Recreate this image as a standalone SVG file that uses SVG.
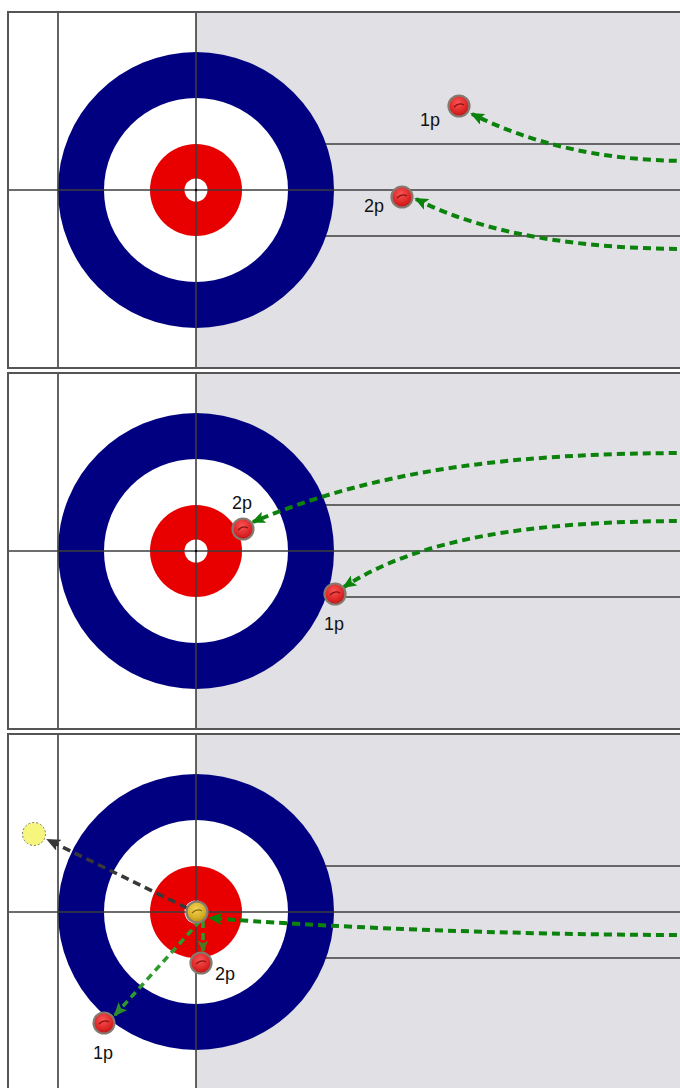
<svg xmlns="http://www.w3.org/2000/svg" xmlns:xlink="http://www.w3.org/1999/xlink" width="680" height="1088" viewBox="0 0 680 1088">
<style>
.ln{stroke:#3c3c3c;stroke-width:1.6;fill:none}
.brd{stroke:#555555;stroke-width:2;fill:none}
.lbl{font-family:"Liberation Sans",Arial,sans-serif;font-size:18px;fill:#111}
.gr{fill:none;stroke:#0b820b;stroke-width:4;stroke-dasharray:8 5}
.gr2{fill:none;stroke:#2e9a2e;stroke-width:3.5;stroke-dasharray:7 5}
.dk{fill:none;stroke:#383838;stroke-width:3.5;stroke-dasharray:8 5}
.ring{stroke:#857a72;stroke-width:2.2}
</style>
<defs>
<radialGradient id="redStone" cx="0.45" cy="0.35" r="0.7">
<stop offset="0" stop-color="#f85454"/>
<stop offset="0.65" stop-color="#dc2424"/>
<stop offset="1" stop-color="#b01212"/>
</radialGradient>
<radialGradient id="yelStone" cx="0.45" cy="0.35" r="0.7">
<stop offset="0" stop-color="#f2d454"/>
<stop offset="0.65" stop-color="#d4ac24"/>
<stop offset="1" stop-color="#a88410"/>
</radialGradient>
<marker id="ahG" viewBox="0 0 14 12" refX="12" refY="6" markerWidth="14" markerHeight="12" markerUnits="userSpaceOnUse" orient="auto">
<path d="M0,0 L14,6 L0,12 L3,6 z" fill="#0b820b"/>
</marker>
<marker id="ahG2" viewBox="0 0 14 12" refX="12" refY="6" markerWidth="14" markerHeight="12" markerUnits="userSpaceOnUse" orient="auto">
<path d="M0,0 L14,6 L0,12 L3,6 z" fill="#2e8a2e"/>
</marker>
<marker id="ahO" viewBox="0 0 14 12" refX="12" refY="6" markerWidth="12" markerHeight="12" markerUnits="userSpaceOnUse" orient="auto">
<path d="M0,0 L14,6 L0,12 L3,6 z" fill="#4a7a22"/>
</marker>
<marker id="ahD" viewBox="0 0 14 12" refX="12" refY="6" markerWidth="14" markerHeight="12" markerUnits="userSpaceOnUse" orient="auto">
<path d="M0,0 L14,6 L0,12 L3,6 z" fill="#383838"/>
</marker>
<g id="sheet">
<rect x="8" y="12" width="690" height="356" fill="#ffffff"/>
<rect x="196" y="12" width="500" height="356" fill="#e1e1e5"/>
<line class="ln" x1="196" y1="144" x2="690" y2="144"/>
<line class="ln" x1="196" y1="236" x2="690" y2="236"/>
<circle cx="196" cy="190" r="138" fill="#000080"/>
<circle cx="196" cy="190" r="92" fill="#ffffff"/>
<circle cx="196" cy="190" r="46" fill="#e80000"/>
<circle cx="196" cy="190" r="11.5" fill="#ffffff"/>
<line class="ln" x1="8" y1="190" x2="690" y2="190"/>
<line class="ln" x1="58" y1="12" x2="58" y2="368"/>
<line class="ln" x1="196" y1="12" x2="196" y2="368"/>
<circle cx="196" cy="190" r="1.2" fill="#000"/>
<rect class="brd" x="8" y="12" width="690" height="356"/>
</g>
<g id="rs">
<circle r="10.5" fill="url(#redStone)" class="ring"/>
<path d="M-5,1 Q0,-4 5,-1" stroke="#8a1010" stroke-width="1.2" fill="none"/>
</g>
</defs>

<g id="panel1">
<use xlink:href="#sheet"/>
</g>
<g id="panel2">
<use xlink:href="#sheet" transform="translate(0,361)"/>
</g>
<g id="panel3">
<use xlink:href="#sheet" transform="translate(0,722)"/>
</g>

<g id="connectors">
<path class="gr" d="M690,161 C600,161 530,143 472,114" marker-end="url(#ahG)"/>
<path class="gr" d="M690,249 C590,249 490,237 416,199" marker-end="url(#ahG)"/>
<path class="gr" d="M690,453 C520,453 380,468 253,522" marker-end="url(#ahG)"/>
<path class="gr" d="M690,521 C530,521 420,538 344,587" marker-end="url(#ahG)"/>
<path class="gr" d="M690,935 C500,935 310,926 210,918" marker-end="url(#ahG)"/>
<path class="dk" d="M187,908 L48,840" marker-end="url(#ahD)"/>
<path class="gr2" d="M200,921 L115,1015" marker-end="url(#ahG2)"/>
<path class="gr2" d="M203,921 L203,951" stroke="#4a7a22" marker-end="url(#ahO)"/>
</g>

<g id="stone-p1-1p">
<use xlink:href="#rs" x="459" y="106"/>
<text class="lbl" x="420" y="126">1p</text>
</g>
<g id="stone-p1-2p">
<use xlink:href="#rs" x="402" y="197"/>
<text class="lbl" x="364" y="212">2p</text>
</g>
<g id="stone-p2-2p">
<use xlink:href="#rs" x="243" y="529"/>
<text class="lbl" x="232" y="509">2p</text>
</g>
<g id="stone-p2-1p">
<use xlink:href="#rs" x="335" y="594"/>
<text class="lbl" x="324" y="630">1p</text>
</g>
<g id="stone-p3-shooter">
<circle cx="197" cy="912" r="10.5" fill="url(#yelStone)" class="ring"/>
<path d="M192,913 Q197,908 202,911" stroke="#8a6a10" stroke-width="1.2" fill="none"/>
</g>
<g id="stone-p3-2p">
<use xlink:href="#rs" x="201" y="963"/>
<text class="lbl" x="215" y="980">2p</text>
</g>
<g id="stone-p3-1p">
<use xlink:href="#rs" x="104" y="1023"/>
<text class="lbl" x="93" y="1059">1p</text>
</g>
<g id="ghost-stone">
<circle cx="34" cy="834" r="11.5" fill="#f6f67e" stroke="#777" stroke-width="1" stroke-dasharray="2 2"/>
</g>
</svg>
